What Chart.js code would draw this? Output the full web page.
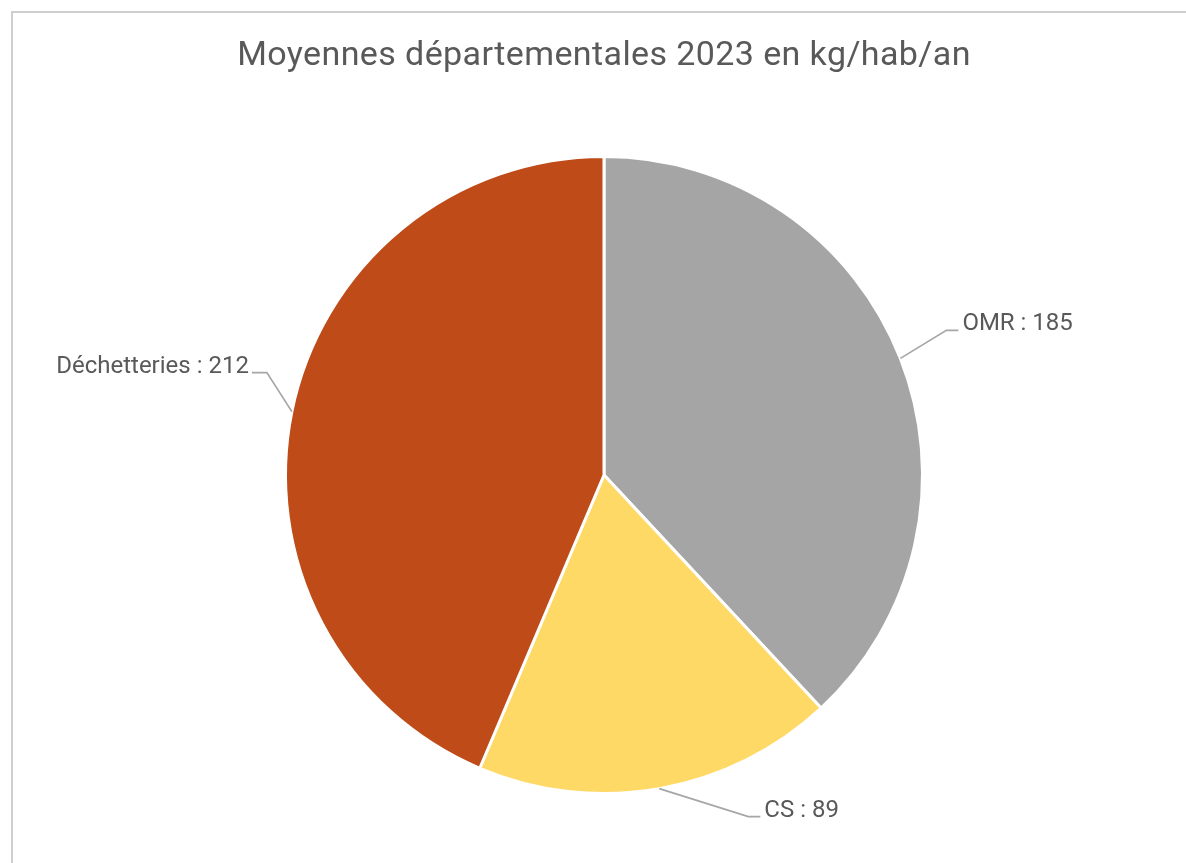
<!DOCTYPE html>
<html lang="fr">
<head>
<meta charset="utf-8">
<title>Moyennes départementales 2023</title>
<script src="https://cdn.jsdelivr.net/npm/chart.js@4/dist/chart.umd.min.js"></script>
<style>
  html, body { margin: 0; padding: 0; background: #ffffff; }
  #wrap { position: relative; width: 1186px; height: 863px; overflow: hidden; }
  #frame {
    position: absolute; left: 11px; top: 11px; width: 1300px; height: 1000px;
    border-left: 2px solid #cfcfcf; border-top: 2px solid #cfcfcf;
    pointer-events: none;
  }
  canvas { position: absolute; left: 0; top: 0; }
</style>
</head>
<body>
<div id="wrap">
  <canvas id="pie" width="1186" height="863"></canvas>
  <div id="frame"></div>
</div>
<script>
// Tonnages moyens par flux (kg/hab/an)
const chartTitle = "Moyennes départementales 2023 en kg/hab/an";
const categories = ["OMR", "CS", "Déchetteries"];
const values = [185, 89, 212];
const sliceColors = ["#A5A5A5", "#FFD966", "#BE4B18"];

// Leader lines: elbow and end offsets from the slice edge, one per slice
const leaders = [
  { elbow: [46, -28], end: [58, -28], side: "right" },
  { elbow: [89, 28], end: [101, 28], side: "right" },
  { elbow: [-25, -39], end: [-40, -39], side: "left" },
];

// Title drawn by hand, centred over the pie
const spacedTitle = {
  id: "spacedTitle",
  afterDraw(chart) {
    const ctx = chart.ctx;
    const area = chart.chartArea;
    ctx.save();
    ctx.font = "34px Roboto";
    ctx.letterSpacing = "0.4px";
    ctx.fillStyle = "#595959";
    ctx.textAlign = "center";
    ctx.textBaseline = "alphabetic";
    ctx.fillText(chartTitle, (area.left + area.right) / 2, 65);
    ctx.restore();
  },
};

const outsideLabels = {
  id: "outsideLabels",
  afterDatasetsDraw(chart) {
    const ctx = chart.ctx;
    const meta = chart.getDatasetMeta(0);
    ctx.save();
    ctx.font = "24px Roboto";
    ctx.fillStyle = "#595959";
    ctx.strokeStyle = "#A6A6A6";
    ctx.lineWidth = 1.7;
    ctx.textBaseline = "alphabetic";
    meta.data.forEach((arc, i) => {
      const p = arc.getProps(["x", "y", "startAngle", "endAngle", "outerRadius"], true);
      const mid = (p.startAngle + p.endAngle) / 2;
      const ax = p.x + Math.cos(mid) * p.outerRadius;
      const ay = p.y + Math.sin(mid) * p.outerRadius;
      const l = leaders[i];
      const ex = ax + l.end[0];
      const ey = ay + l.end[1];
      ctx.beginPath();
      ctx.moveTo(ax, ay);
      ctx.lineTo(ax + l.elbow[0], ay + l.elbow[1]);
      ctx.lineTo(ex, ey);
      ctx.stroke();
      const text = categories[i] + " : " + values[i];
      if (l.side === "right") {
        ctx.textAlign = "left";
        ctx.fillText(text, ex + 4, ey);
      } else {
        ctx.textAlign = "right";
        ctx.fillText(text, ex - 3, ey);
      }
    });
    ctx.restore();
  },
};

new Chart(document.getElementById("pie"), {
  type: "pie",
  data: {
    labels: categories,
    datasets: [
      {
        data: values,
        backgroundColor: sliceColors,
        borderColor: "#ffffff",
        borderWidth: 3,
      },
    ],
  },
  options: {
    responsive: false,
    animation: false,
    layout: { padding: { left: 284, right: 262, top: 155, bottom: 68 } },
    plugins: {
      legend: { display: false },
      tooltip: { enabled: false },
      title: { display: false },
    },
  },
  plugins: [outsideLabels, spacedTitle],
});
</script>
</body>
</html>
